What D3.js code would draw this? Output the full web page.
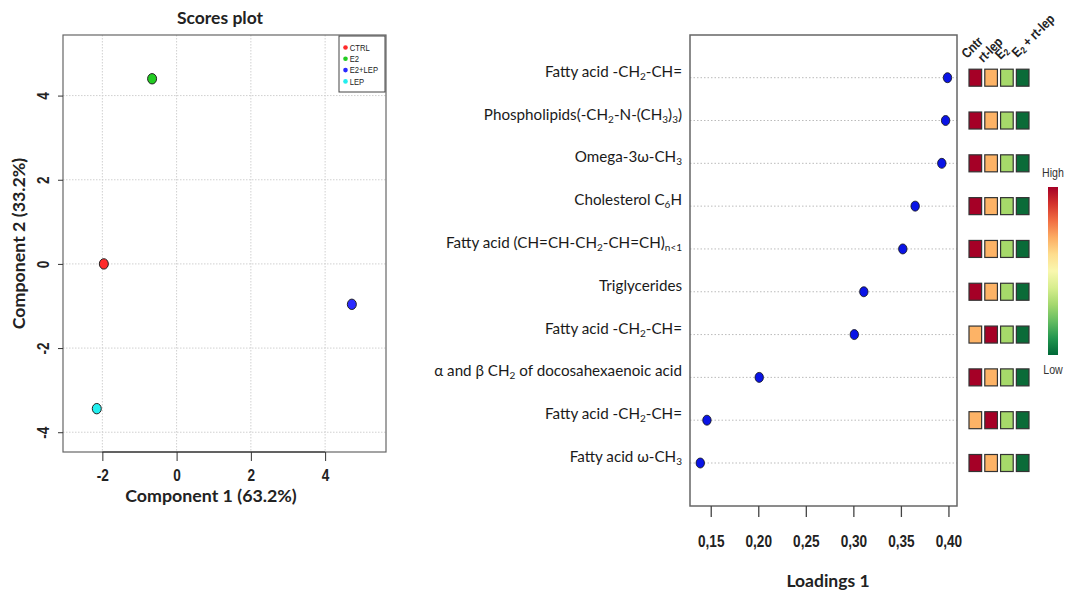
<!DOCTYPE html>
<html><head><meta charset="utf-8">
<script src="https://cdn.jsdelivr.net/npm/d3@7"></script>
<style>
body{margin:0;background:#fff;}
svg{display:block;}
</style></head>
<body>
<svg id="chart" width="1069" height="595"></svg>
<script>
// ---------- Scores plot data ----------
const groups = ["CTRL", "E2", "E2+LEP", "LEP"];
const groupColors = ["#ff2a2a", "#22cc22", "#2a2aff", "#22eeee"];
const comp1 = [-1.96, -0.66, 4.72, -2.15];
const comp2 = [0.0, 4.40, -0.96, -3.44];
const scoreXTicks = [-2, 0, 2, 4];
const scoreYTicks = [-4, -2, 0, 2, 4];

// ---------- Loadings data ----------
const features = [
  "Fatty acid -CH_{2}-CH=",
  "Phospholipids(-CH_{2}-N-(CH_{3})_{3})",
  "Omega-3ω-CH_{3}",
  "Cholesterol C_{6}H",
  "Fatty acid (CH=CH-CH_{2}-CH=CH)_{n<1}",
  "Triglycerides",
  "Fatty acid -CH_{2}-CH=",
  "α and β CH_{2} of docosahexaenoic  acid",
  "Fatty acid -CH_{2}-CH=",
  "Fatty acid ω-CH_{3}"
];
const loadings = [0.399, 0.397, 0.393, 0.365, 0.352, 0.311, 0.301, 0.201, 0.146, 0.139];
const loadTicks = [0.15, 0.20, 0.25, 0.30, 0.35, 0.40];
const heatCols = ["Cntr", "rt-lep", "E_{2}", "E_{2} + rt-lep"];
// relative level per feature and group (4 = high, 1 = low)
const cntrLevel  = [4, 4, 4, 4, 4, 4, 3, 4, 3, 4];
const rtlepLevel = [3, 3, 3, 3, 3, 3, 4, 3, 4, 3];
const e2Level    = [2, 2, 2, 2, 2, 2, 2, 2, 2, 2];
const e2rtLevel  = [1, 1, 1, 1, 1, 1, 1, 1, 1, 1];
const levelColors = ["#0a6b38", "#a6d96a", "#fdb366", "#a50026"];

const svg = d3.select("#chart");
const arial = "'Liberation Sans',Arial,sans-serif";
const calib = "Lato,'Open Sans',sans-serif";
const NARROW = 0.85;

// helper: render text with _{sub}
function richText(sel, str, subSize) {
  const parts = str.split(/(_\{[^}]*\})/).filter(s => s.length);
  parts.forEach(p => {
    if (p.startsWith("_{")) {
      sel.append("tspan").attr("baseline-shift", "-25%").attr("font-size", subSize).text(p.slice(2, -1));
    } else {
      sel.append("tspan").text(p);
    }
  });
}
const hyph = d => String(d).replace("\u2212", "-");

// ================= Scores plot =================
{
  const L = 63, R = 386, T = 35, B = 452;
  const x = d3.scaleLinear().domain([-3.06, 5.64]).range([L, R]);
  const y = d3.scaleLinear().domain([-4.47, 5.44]).range([B, T]);
  const g = svg.append("g");

  // grid
  g.selectAll(".gx").data(scoreXTicks).join("line")
    .attr("x1", d => x(d)).attr("x2", d => x(d)).attr("y1", T).attr("y2", B)
    .attr("stroke", "#d0d0d0").attr("stroke-dasharray", "1.5,1.5");
  g.selectAll(".gy").data(scoreYTicks).join("line")
    .attr("y1", d => y(d)).attr("y2", d => y(d)).attr("x1", L).attr("x2", R)
    .attr("stroke", "#d0d0d0").attr("stroke-dasharray", "1.5,1.5");

  g.append("rect").attr("x", L).attr("y", T).attr("width", R - L).attr("height", B - T)
    .attr("fill", "none").attr("stroke", "#666").attr("stroke-width", 1.2);

  // axes
  const xa = g.append("g").attr("transform", `translate(0,${B})`)
    .call(d3.axisBottom(x).tickValues(scoreXTicks).tickSize(9).tickPadding(9).tickFormat(d => hyph(d)));
  xa.select(".domain").attr("d", `M${x(-2)},0H${x(4)}`).attr("stroke", "#222");
  xa.selectAll("text").attr("font-family", arial).attr("font-weight", "bold").attr("font-size", 16)
    .attr("fill", "#222").attr("transform", `scale(${NARROW},1)`);
  xa.selectAll("line").attr("stroke", "#333");

  const ya = g.append("g").attr("transform", `translate(${L},0)`)
    .call(d3.axisLeft(y).tickValues(scoreYTicks).tickSize(5).tickFormat(d => hyph(d)));
  ya.select(".domain").remove();
  ya.selectAll("line").attr("stroke", "#333");
  ya.selectAll("text").attr("font-family", arial).attr("font-weight", "bold").attr("font-size", 16).attr("fill", "#222")
    .attr("text-anchor", "middle").attr("transform", `rotate(-90) scale(${NARROW},1)`)
    .attr("x", 0).attr("y", -14.5).attr("dy", "0");

  // points
  g.selectAll(".pt").data(groups).join("ellipse")
    .attr("cx", (d, i) => x(comp1[i])).attr("cy", (d, i) => y(comp2[i]))
    .attr("rx", 4.5).attr("ry", 5.2)
    .attr("fill", (d, i) => groupColors[i]).attr("stroke", "#222").attr("stroke-width", 1);

  // legend
  g.append("rect").attr("x", 339).attr("y", 36).attr("width", 46).attr("height", 56)
    .attr("fill", "#fff").attr("stroke", "#444").attr("stroke-width", 1);
  const lg = g.selectAll(".lg").data(groups).join("g")
    .attr("transform", (d, i) => `translate(345.5,${47.5 + i * 11.3})`);
  lg.append("circle").attr("r", 2.3).attr("fill", (d, i) => groupColors[i]);
  lg.append("text").attr("x", 5).attr("dy", "0.35em").attr("font-family", arial).attr("font-size", 9)
    .attr("transform", `scale(${NARROW},1)`)
    .attr("fill", "#222").text(d => d);

  // titles
  g.append("text").attr("x", 220).attr("y", 24).attr("text-anchor", "middle")
    .attr("font-family", calib).attr("font-weight", "bold").attr("font-size", 17.5).attr("fill", "#222").text("Scores plot");
  g.append("text").attr("x", 211).attr("y", 502).attr("text-anchor", "middle")
    .attr("font-family", calib).attr("font-weight", "bold").attr("font-size", 17.8).attr("fill", "#222").text("Component 1 (63.2%)");
  g.append("text").attr("transform", `translate(25,${(T + B) / 2}) rotate(-90)`).attr("text-anchor", "middle")
    .attr("font-family", calib).attr("font-weight", "bold").attr("font-size", 17.8).attr("fill", "#222").text("Component 2 (33.2%)");
}

// ================= Loadings plot =================
{
  const L = 690, R = 957, T = 35, B = 506;
  const x = d3.scaleLinear().domain([0.1282, 0.409]).range([L, R]);
  const y = d3.scalePoint().domain(d3.range(features.length)).range([77.7, 463]);
  const g = svg.append("g");

  g.selectAll(".row").data(features).join("line")
    .attr("x1", L).attr("x2", R).attr("y1", (d, i) => y(i)).attr("y2", (d, i) => y(i))
    .attr("stroke", "#bbb").attr("stroke-dasharray", "1.5,2");

  g.append("rect").attr("x", L).attr("y", T).attr("width", R - L).attr("height", B - T)
    .attr("fill", "none").attr("stroke", "#666").attr("stroke-width", 1.5);

  const fmt = d => d3.format(".2f")(d).replace(".", ",");
  const xa = g.append("g").attr("transform", `translate(0,${B})`)
    .call(d3.axisBottom(x).tickValues(loadTicks).tickSize(11).tickPadding(19).tickFormat(fmt));
  xa.select(".domain").remove();
  xa.selectAll("line").attr("stroke", "#444").attr("stroke-width", 1.3);
  xa.selectAll("text").attr("font-family", arial).attr("font-weight", "bold").attr("font-size", 16)
    .attr("fill", "#222").attr("transform", `scale(${NARROW},1)`);

  g.append("text").attr("x", 828).attr("y", 587).attr("text-anchor", "middle")
    .attr("font-family", calib).attr("font-weight", "bold").attr("font-size", 17.5).attr("fill", "#222").text("Loadings 1");

  // feature labels
  g.selectAll(".lab").data(features).join("text")
    .attr("x", 682).attr("y", (d, i) => y(i) - 1).attr("text-anchor", "end")
    .attr("font-family", calib).attr("font-size", 15.2).attr("fill", "#1a1a1a")
    .each(function(d){ richText(d3.select(this), d, 10); });

  // dots
  g.selectAll(".dot").data(loadings).join("ellipse")
    .attr("cx", d => x(d)).attr("cy", (d, i) => y(i))
    .attr("rx", 4.2).attr("ry", 5).attr("fill", "#0a14e6").attr("stroke", "#111").attr("stroke-width", 0.8);

  // heat squares
  const levels = [cntrLevel, rtlepLevel, e2Level, e2rtLevel];
  const colX = d3.scaleBand().domain(d3.range(heatCols.length)).range([969, 1029]).paddingInner(0.2);
  const color = d3.scaleOrdinal().domain([1, 2, 3, 4]).range(levelColors);
  heatCols.forEach((c, ci) => {
    g.selectAll(".sq" + ci).data(levels[ci]).join("rect")
      .attr("x", colX(ci)).attr("y", (d, i) => y(i) - 8.5)
      .attr("width", colX.bandwidth()).attr("height", 17)
      .attr("fill", d => color(d)).attr("stroke", "#333").attr("stroke-width", 1.2);
  });
  // column headers
  const hdrDx = [-2, -1.5, 0, 1];
  const hdrY = [59, 63, 60, 58];
  g.selectAll(".hdr").data(heatCols).join("text")
    .attr("transform", (d, i) => `translate(${colX(i) + hdrDx[i]},${hdrY[i]}) rotate(-45) scale(${NARROW},1)`)
    .attr("font-family", arial).attr("font-weight", "bold").attr("font-size", 13.5).attr("fill", "#222")
    .each(function(d){ richText(d3.select(this), d, 9.5); });

  // color bar
  const defs = svg.append("defs");
  const grad = defs.append("linearGradient").attr("id", "cbar").attr("x1", 0).attr("x2", 0).attr("y1", 0).attr("y2", 1);
  d3.range(0, 1.001, 0.1).forEach(t => {
    grad.append("stop").attr("offset", t).attr("stop-color", d3.interpolateRdYlGn(t));
  });
  g.append("rect").attr("x", 1048).attr("y", 187).attr("width", 10).attr("height", 168).attr("fill", "url(#cbar)");
  g.append("text").attr("x", 1053 / NARROW).attr("y", 177).attr("text-anchor", "middle")
    .attr("transform", `scale(${NARROW},1)`)
    .attr("font-family", arial).attr("font-size", 12.5).attr("fill", "#333").text("High");
  g.append("text").attr("x", 1053 / NARROW).attr("y", 374).attr("text-anchor", "middle")
    .attr("transform", `scale(${NARROW},1)`)
    .attr("font-family", arial).attr("font-size", 12.5).attr("fill", "#333").text("Low");
}
</script>
</body></html>
